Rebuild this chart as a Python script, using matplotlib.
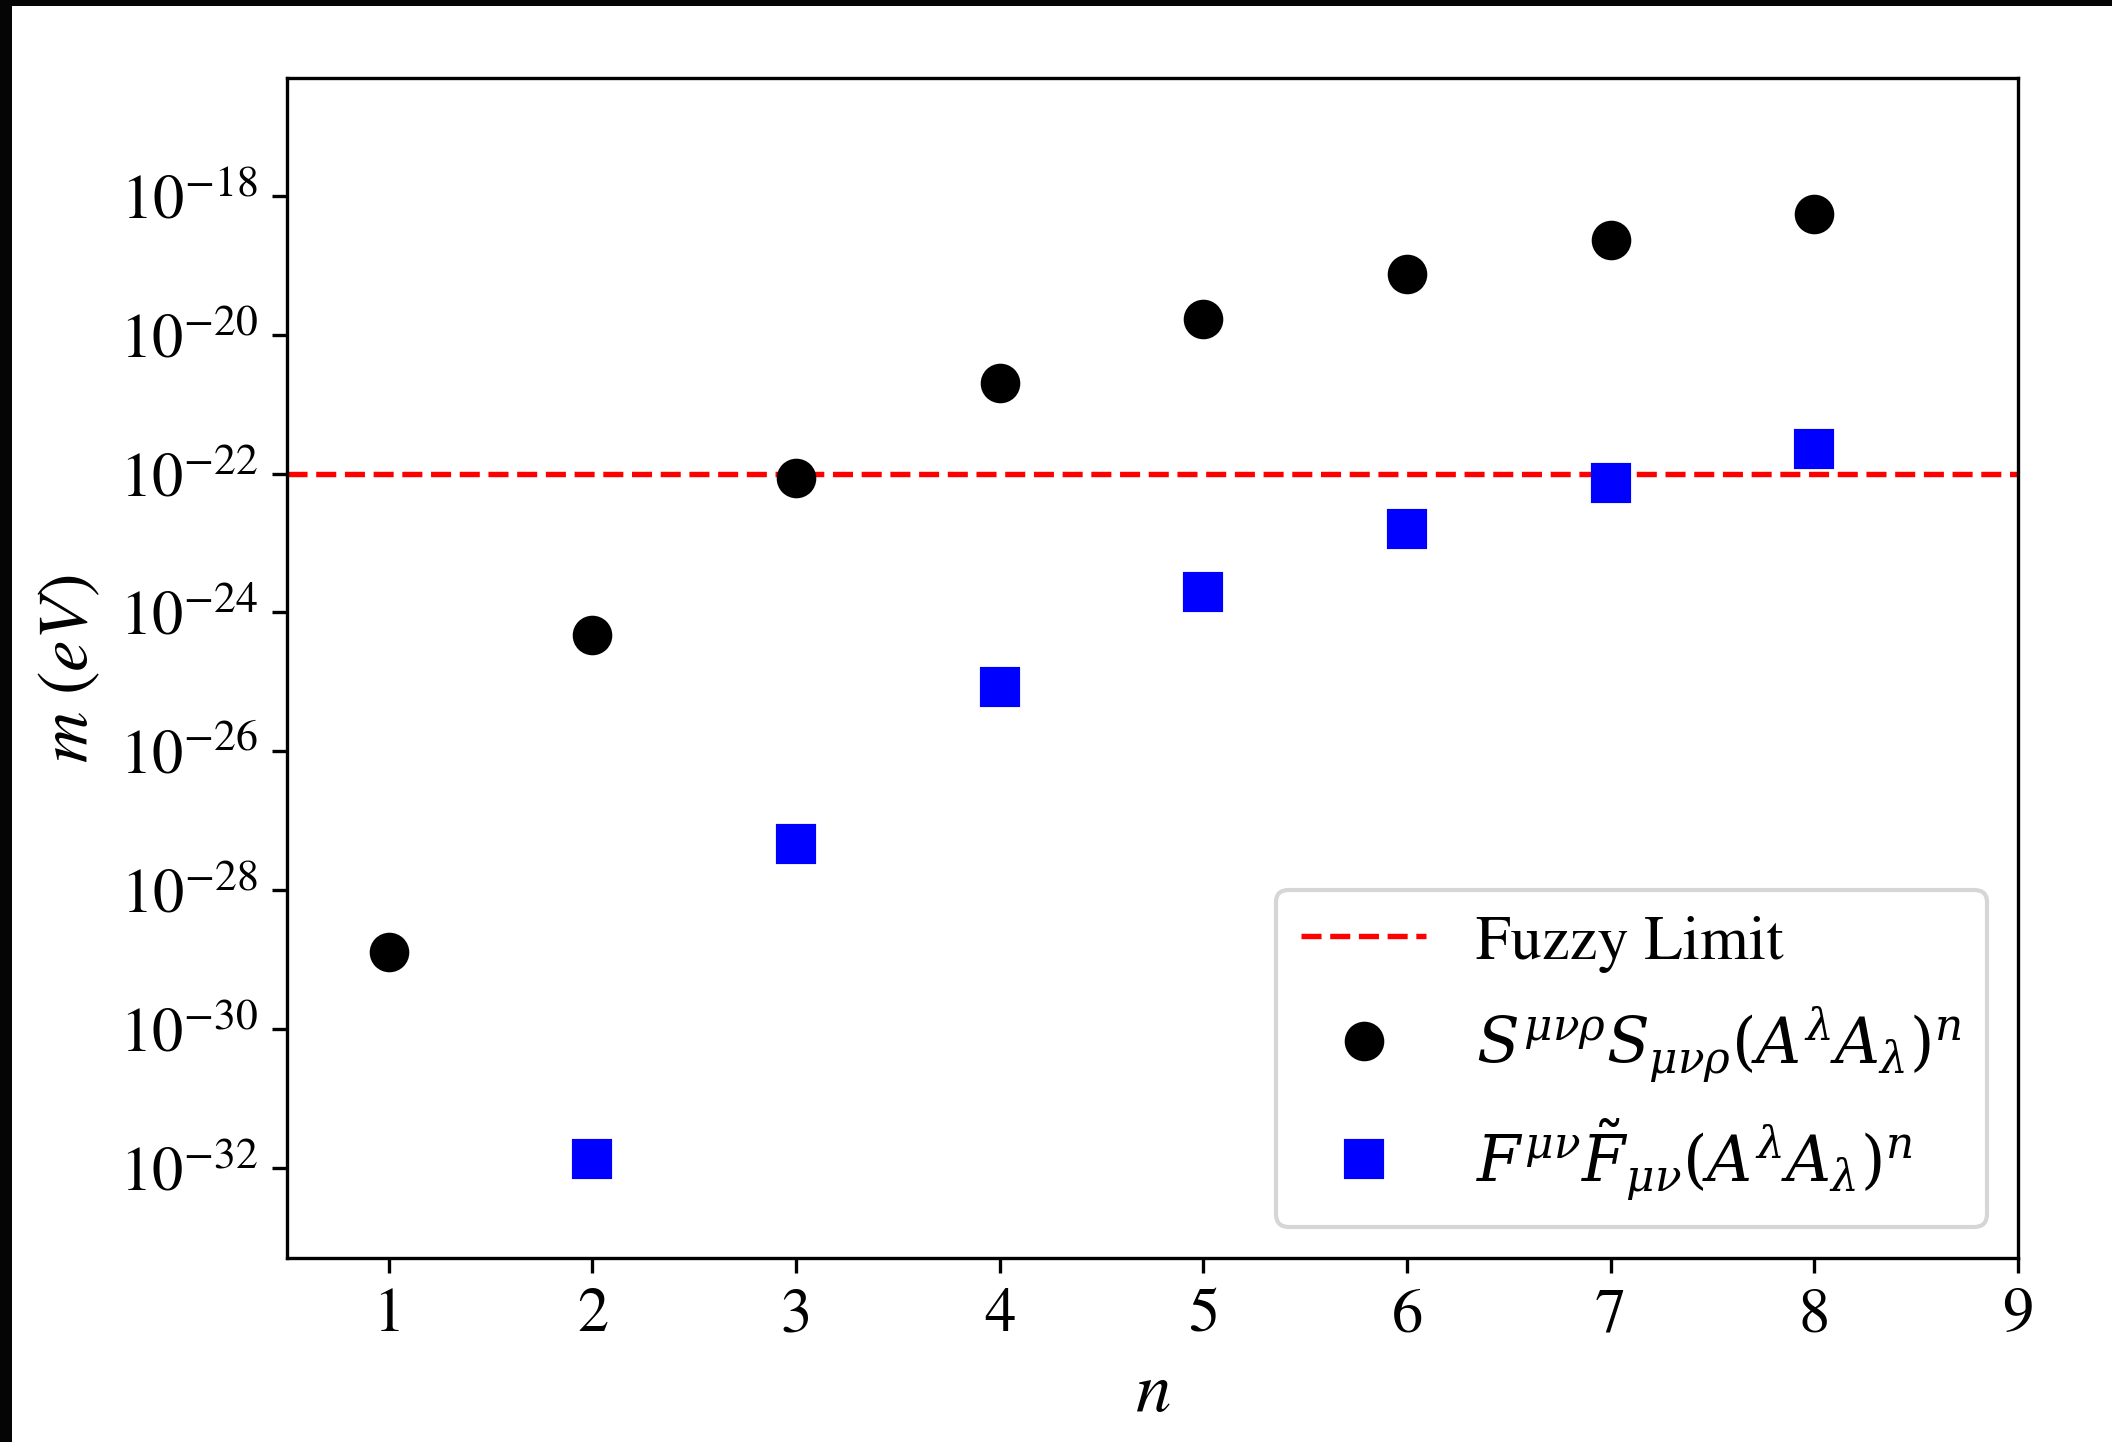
import matplotlib
matplotlib.use('Agg')
import matplotlib.pyplot as plt
from matplotlib.patches import Rectangle

plt.rcParams['font.family'] = 'STIXGeneral'
plt.rcParams['mathtext.fontset'] = 'stix'

# data (log10 of m in eV)
n_s = [1, 2, 3, 4, 5, 6, 7, 8]
log_m_s = [-28.89, -24.33, -22.06, -20.70, -19.78, -19.12, -18.63, -18.26]

n_f = [2, 3, 4, 5, 6, 7, 8]
log_m_f = [-31.88, -27.33, -25.07, -23.71, -22.80, -22.14, -21.65]

fuzzy_limit = 1e-22

m_s = [10 ** v for v in log_m_s]
m_f = [10 ** v for v in log_m_f]

fig = plt.figure(figsize=(7.04, 4.81), dpi=300)
ax = fig.add_axes([0.1359, 0.1275, 0.9555 - 0.1359, 0.9453 - 0.1275])

ax.axhline(fuzzy_limit, color='red', linestyle='--', linewidth=1.3, label='Fuzzy Limit')
ax.plot(n_s, m_s, 'o', color='black', markersize=8.5,
        label=r'$S^{\mu\nu\rho}S_{\mu\nu\rho}(A^{\lambda}A_{\lambda})^n$')
ax.plot(n_f, m_f, 's', color='blue', markersize=8.5,
        label=r'$F^{\mu\nu}\tilde{F}_{\mu\nu}(A^{\lambda}A_{\lambda})^n$')

ax.set_yscale('log')
ax.set_xlim(0.5, 9)
ax.set_ylim(5e-34, 5e-17)
ax.set_xticks(range(1, 10))
ax.tick_params(labelsize=15)

ax.set_xlabel(r'$n$', fontsize=17)
ax.set_ylabel(r'$m\ (eV)$', fontsize=17)

ax.legend(loc='lower right', prop={'size': 15, 'math_fontfamily': 'dejavuserif'})

# black screenshot border on top and left
fig.patches.append(Rectangle((0, 1 - 7 / 1443), 1, 7 / 1443, transform=fig.transFigure,
                             facecolor='#050505', edgecolor='none', zorder=10))
fig.patches.append(Rectangle((0, 0), 12 / 2112, 1, transform=fig.transFigure,
                             facecolor='#050505', edgecolor='none', zorder=10))

fig.savefig('out.png', dpi=300)
